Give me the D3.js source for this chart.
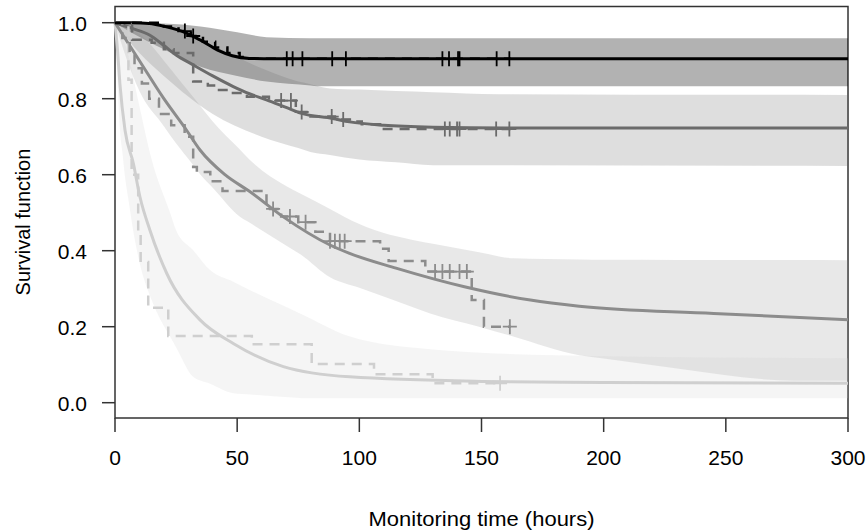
<!DOCTYPE html>
<html>
<head>
<meta charset="utf-8">
<script src="https://cdn.jsdelivr.net/npm/d3@7/dist/d3.min.js"></script>
<style>
  body { margin: 0; background: #fff; }
  text { font-family: "Liberation Sans", Arial, sans-serif; fill: #000; }
</style>
</head>
<body>
<div id="chart"></div>
<script>
const xTicks = [0, 50, 100, 150, 200, 250, 300]
const yTicks = [0, 0.2, 0.4, 0.6, 0.8, 1.0]

// group 1 (black) : fitted curve, band, Kaplan-Meier steps, censored times
const fit1 = [[0, 1], [7, 1.0], [14, 0.998], [21, 0.989], [28, 0.976], [35, 0.954], [42, 0.928], [48, 0.913], [55, 0.906], [65, 0.905], [300, 0.905]]
const hi1 = [[0, 1], [20, 0.998], [35, 0.99], [50, 0.975], [62, 0.962], [80, 0.959], [300, 0.959]]
const lo1 = [[0, 1], [7, 0.973], [20, 0.93], [35, 0.884], [50, 0.86], [62, 0.845], [83, 0.833], [300, 0.833]]
const km1 = [[0, 1], [20, 0.99], [26, 0.978], [31, 0.965], [36, 0.95], [41, 0.935], [46, 0.92], [51, 0.91], [55, 0.905], [162, 0.905]]
const cens1 = [28.6, 32, 70.3, 72.7, 76.7, 88.9, 94.5, 134, 136.7, 140.4, 141, 156.2, 161.4]

// group 2 (dark grey)
const fit2 = [[0, 1], [7, 0.985], [14.3, 0.967], [20, 0.94], [25, 0.915], [32, 0.889], [40, 0.86], [48.4, 0.832], [55, 0.813], [62, 0.797], [70, 0.777], [76, 0.762], [89, 0.748], [96, 0.739], [110, 0.73], [130, 0.725], [160, 0.723], [300, 0.723]]
const hi2 = [[0, 1], [20, 0.99], [40, 0.94], [60, 0.88], [75, 0.845], [88, 0.827], [115, 0.82], [157, 0.812], [300, 0.81]]
const lo2 = [[0, 1], [10, 0.92], [20, 0.86], [40, 0.76], [60, 0.7], [80, 0.66], [100, 0.64], [130, 0.625], [300, 0.623]]
const km2 = [[0, 1], [7, 0.955], [15, 0.947], [20, 0.93], [24, 0.92], [32, 0.845], [38, 0.835], [42, 0.823], [47, 0.815], [54, 0.805], [63, 0.795], [74, 0.765], [80, 0.753], [90, 0.745], [97, 0.74], [101, 0.733], [108.5, 0.72], [162, 0.72]]
const cens2 = [68, 72, 76.4, 88.7, 93.4, 135, 137, 140, 141, 156, 161.4]

// group 3 (mid grey)
const fit3 = [[0, 1], [5, 0.95], [10, 0.9], [20, 0.8], [29.3, 0.717], [34.8, 0.665], [45, 0.6], [55.3, 0.555], [68.9, 0.489], [88, 0.415], [96, 0.393], [115, 0.354], [143, 0.305], [170, 0.27], [190, 0.254], [245, 0.235], [300, 0.218]]
const hi3 = [[0, 1], [10, 0.97], [20, 0.9], [30, 0.82], [40, 0.74], [55, 0.64], [70, 0.57], [88, 0.51], [100, 0.47], [125, 0.424], [163, 0.38], [200, 0.376], [300, 0.375]]
const lo3 = [[0, 1], [5, 0.9], [10, 0.82], [23, 0.7], [35, 0.6], [51, 0.49], [76, 0.39], [88, 0.33], [129, 0.235], [149, 0.2], [190, 0.125], [230, 0.09], [278, 0.058], [300, 0.058]]
const km3 = [[0, 1], [3, 0.96], [6, 0.92], [8, 0.88], [11, 0.84], [14, 0.8], [18, 0.76], [23, 0.73], [28.5, 0.7], [32, 0.62], [33.5, 0.607], [39, 0.583], [44, 0.557], [62, 0.51], [68, 0.49], [75, 0.475], [82, 0.45], [88, 0.425], [108.5, 0.405], [112, 0.373], [127, 0.345], [146, 0.27], [151, 0.2], [162, 0.2]]
const cens3 = [64.7, 71.6, 78, 88, 90, 92, 94, 131, 134, 137, 141, 144, 161.6]

// group 4 (light grey)
const fit4 = [[0, 1], [1, 0.93], [2, 0.84], [4.1, 0.717], [7.5, 0.63], [10.2, 0.542], [14.3, 0.454], [21.2, 0.34], [34.8, 0.218], [48.4, 0.156], [68.9, 0.095], [96, 0.068], [150, 0.056], [200, 0.053], [300, 0.051]]
const hi4 = [[0, 1], [3, 0.97], [6, 0.9], [10, 0.78], [15, 0.64], [25, 0.454], [38.9, 0.349], [55.3, 0.296], [75.7, 0.235], [96.2, 0.174], [130, 0.14], [180, 0.125], [300, 0.117]]
const lo4 = [[0, 1], [1, 0.85], [2, 0.72], [4, 0.6], [7, 0.47], [10, 0.37], [15, 0.27], [22.5, 0.174], [32, 0.068], [48.4, 0.025], [76, 0.012], [300, 0.012]]
const km4 = [[0, 1], [5.5, 0.85], [6.8, 0.6], [9.5, 0.45], [10.5, 0.37], [13.6, 0.25], [21.8, 0.1755], [56, 0.154], [80.5, 0.102], [106, 0.075], [130, 0.051], [158, 0.051]]
const cens4 = [157.6]

const groups = [
  { fit: fit1, hi: hi1, lo: lo1, km: km1, cens: cens1, color: '#000000', band: 0.3 },
  { fit: fit2, hi: hi2, lo: lo2, km: km2, cens: cens2, color: '#6b6b6b', band: 0.22 },
  { fit: fit3, hi: hi3, lo: lo3, km: km3, cens: cens3, color: '#8c8c8c', band: 0.2 },
  { fit: fit4, hi: hi4, lo: lo4, km: km4, cens: cens4, color: '#cfcfcf', band: 0.2 }
]

const width = 867
const height = 531
const x = d3.scaleLinear().domain([0, 300]).range([115, 848])
const y = d3.scaleLinear().domain([0, 1]).range([402.7, 22.7])

const svg = d3.select('#chart').append('svg')
  .attr('width', width)
  .attr('height', height)

// frame
svg.append('rect')
  .attr('x', 115)
  .attr('y', 6.5)
  .attr('width', 848 - 115)
  .attr('height', 418 - 6.5)
  .attr('fill', 'none')
  .attr('stroke', '#333')
  .attr('stroke-width', 1.5)

// confidence bands
const area = d3.area()
  .curve(d3.curveMonotoneX)
  .x(d => x(d[0]))
  .y0(d => y(d[1]))
  .y1(d => y(d[2]))

function bandRows(hi, lo) {
  // merge both edges onto a shared set of times
  const times = Array.from(new Set([...hi.map(d => d[0]), ...lo.map(d => d[0])])).sort((a, b) => a - b)
  const interp = (arr, t) => {
    const i = d3.bisector(d => d[0]).left(arr, t)
    if (i <= 0) return arr[0][1]
    if (i >= arr.length) return arr[arr.length - 1][1]
    const a = arr[i - 1], b = arr[i]
    return a[1] + (b[1] - a[1]) * (t - a[0]) / (b[0] - a[0])
  }
  return times.map(t => [t, interp(lo, t), interp(hi, t)])
}

svg.append('g').selectAll('path')
  .data(groups)
  .join('path')
  .attr('fill', d => d.color)
  .attr('fill-opacity', d => d.band)
  .attr('stroke', 'none')
  .attr('d', d => area(bandRows(d.hi, d.lo)))

// fitted curves
const line = d3.line()
  .curve(d3.curveMonotoneX)
  .x(d => x(d[0]))
  .y(d => y(d[1]))

const step = d3.line()
  .curve(d3.curveStepAfter)
  .x(d => x(d[0]))
  .y(d => y(d[1]))

const drawOrder = groups.slice().reverse()

svg.append('g').selectAll('path')
  .data(drawOrder)
  .join('path')
  .attr('fill', 'none')
  .attr('stroke', d => d.color)
  .attr('stroke-width', 3)
  .attr('d', d => line(d.fit))

// Kaplan-Meier steps
svg.append('g').selectAll('path')
  .data(drawOrder)
  .join('path')
  .attr('fill', 'none')
  .attr('stroke', d => d.color)
  .attr('stroke-width', 2.5)
  .attr('stroke-dasharray', '10,7')
  .attr('d', d => step(d.km))

// censor marks
function kmAt(km, t) {
  let v = km[0][1]
  km.forEach(d => { if (d[0] <= t) v = d[1] })
  return v
}

drawOrder.forEach(g => {
  svg.append('g').selectAll('path')
    .data(g.cens)
    .join('path')
    .attr('fill', 'none')
    .attr('stroke', g.color)
    .attr('stroke-width', 1.8)
    .attr('d', t => {
      const cx = x(t), cy = y(kmAt(g.km, t))
      return `M${cx - 7},${cy}H${cx + 7}M${cx},${cy - 7.5}V${cy + 7.5}`
    })
})

// y axis
const yAxisG = svg.append('g')
yAxisG.selectAll('line')
  .data(yTicks)
  .join('line')
  .attr('x1', 102).attr('x2', 115)
  .attr('y1', d => y(d)).attr('y2', d => y(d))
  .attr('stroke', '#333').attr('stroke-width', 1.5)
yAxisG.selectAll('text')
  .data(yTicks)
  .join('text')
  .attr('x', 87)
  .attr('y', d => y(d) + 8)
  .attr('text-anchor', 'end')
  .attr('font-size', 21)
  .text(d => d.toFixed(1))

// x axis
const xAxisG = svg.append('g')
xAxisG.selectAll('line')
  .data(xTicks)
  .join('line')
  .attr('x1', d => x(d)).attr('x2', d => x(d))
  .attr('y1', 418).attr('y2', 432)
  .attr('stroke', '#333').attr('stroke-width', 1.5)
xAxisG.selectAll('text')
  .data(xTicks)
  .join('text')
  .attr('x', d => x(d))
  .attr('y', 465)
  .attr('text-anchor', 'middle')
  .attr('font-size', 21)
  .text(d => d)

// axis titles
svg.append('text')
  .attr('x', 481.5)
  .attr('y', 526)
  .attr('text-anchor', 'middle')
  .attr('font-size', 21)
  .attr('textLength', 226)
  .attr('lengthAdjust', 'spacingAndGlyphs')
  .text('Monitoring time (hours)')

svg.append('text')
  .attr('transform', 'translate(30,222) rotate(-90)')
  .attr('text-anchor', 'middle')
  .attr('font-size', 20)
  .text('Survival function')
</script>
</body>
</html>
